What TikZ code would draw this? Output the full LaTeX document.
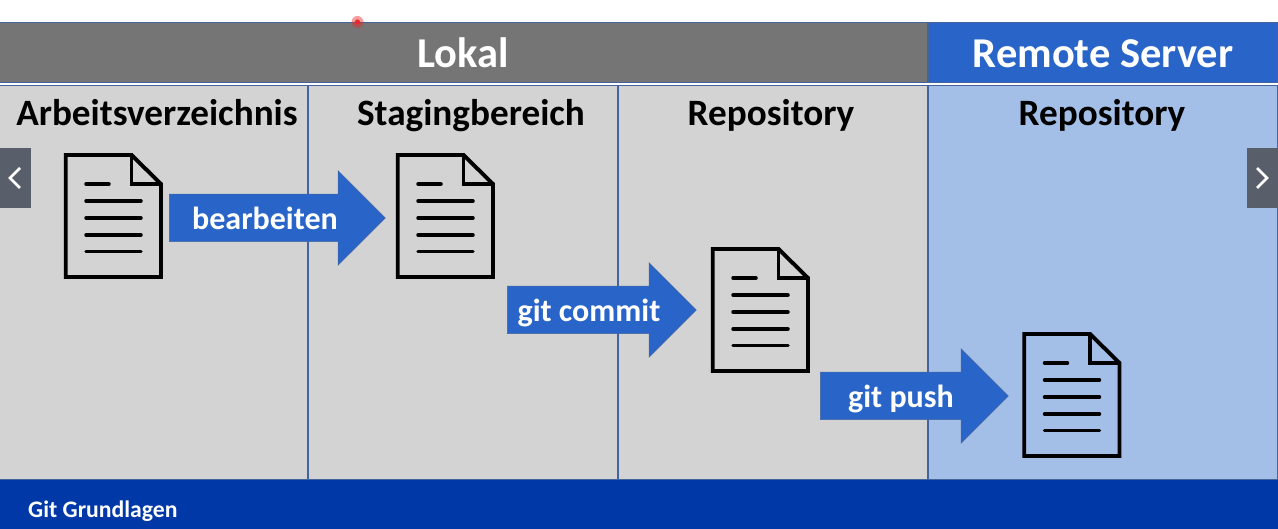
\documentclass[tikz,border=0pt]{standalone}
\usepackage{fontspec}
\setmainfont{Carlito}
\definecolor{BandGray}{RGB}{117,117,117}
\definecolor{PanelGray}{RGB}{211,211,211}
\definecolor{PanelBlue}{RGB}{163,191,232}
\definecolor{ArrowBlue}{RGB}{41,101,200}
\definecolor{EdgeBlue}{RGB}{68,100,160}
\definecolor{FooterBlue}{RGB}{0,56,168}
\definecolor{NavGray}{RGB}{88,94,106}
\definecolor{PointerRed}{RGB}{235,40,40}
\usetikzlibrary{shapes.arrows}
\tikzstyle{band} = [draw=EdgeBlue, line width=1.2pt, minimum height=60pt, inner sep=0pt]
\tikzstyle{bandtext} = [anchor=base, inner sep=0pt, text=white, font=\bfseries\fontsize{42.5}{42.5}\selectfont]
\tikzstyle{panel} = [draw=EdgeBlue, line width=1.3pt, minimum height=394pt, inner sep=0pt]
\tikzstyle{coltitle} = [anchor=base, inner sep=0pt, text=black, font=\bfseries\fontsize{37.2}{37.2}\selectfont]
\tikzstyle{flow} = [single arrow, anchor=tail, draw=EdgeBlue, line width=0.5pt, fill=ArrowBlue, minimum width=94pt, single arrow head extend=23.5pt, single arrow tip angle=90, inner xsep=0pt, inner ysep=23.5pt]
\tikzstyle{flowtext} = [anchor=base, inner sep=0pt, text=white, font=\bfseries\fontsize{32}{32}\selectfont]
\tikzstyle{sheet} = [line width=3.9pt, black, line join=miter]
\tikzstyle{sheetline} = [line width=3.5pt, black, line cap=round]
\tikzstyle{navbox} = [fill=NavGray, inner sep=0pt, minimum width=31pt, minimum height=60pt]
\tikzstyle{chevron} = [line width=2.6pt, white]

\begin{document}
\begin{tikzpicture}[x=1pt, y=-1pt]
  \useasboundingbox (0,0) rectangle (1278,529);
  \fill[white] (0,0) rectangle (1278,529);

  % Header bands
  \node[band, fill=BandGray, minimum width=931pt] (lokal) at (462.5,52.5) {};
  \node[band, fill=ArrowBlue, minimum width=350pt] (remote) at (1103,52.5) {};
  \node[bandtext] (lokaltext) at (463,67.5) {Lokal};
  \node[bandtext] (remotetext) at (1103,67.5) {Remote Server};

  % Panels
  \node[panel, fill=PanelGray, minimum width=311pt] (work) at (152.5,282.5) {};
  \node[panel, fill=PanelGray, minimum width=310pt] (stage) at (463,282.5) {};
  \node[panel, fill=PanelGray, minimum width=310pt] (local) at (773,282.5) {};
  \node[panel, fill=PanelBlue, minimum width=350pt] (server) at (1103,282.5) {};

  % Column titles
  \node[coltitle] (worktitle) at (157,126) {Arbeitsverzeichnis};
  \node[coltitle] (stagetitle) at (471,126) {Stagingbereich};
  \node[coltitle] (localtitle) at (771,126) {Repository};
  \node[coltitle] (servertitle) at (1102,126) {Repository};

  % Document icons
  \foreach \dx/\dy in {0/0, 332/0, 647/94, 958.5/179} {
    \begin{scope}[shift={(\dx,\dy)}]
      \draw[sheet] (65.7,155) -- (131.5,155) -- (161,184) -- (161,277) -- (65.7,277) -- cycle;
      \draw[sheet] (131.5,155) -- (131.5,184) -- (161,184);
      \draw[sheetline] (86,184) -- (109,184);
      \foreach \ly in {201,218,235,251.5}
        \draw[sheetline] (86,\ly) -- (141,\ly);
    \end{scope}
  }

  % Flow arrows
  \node[flow, minimum height=216pt] (edit) at (169,218) {};
  \node[flowtext] (edittext) at (265,230) {bearbeiten};
  \node[flow, minimum height=189pt] (commit) at (507,310) {};
  \node[flowtext] (committext) at (589,322) {git commit};
  \node[flow, minimum height=188pt] (push) at (820,396) {};
  \node[flowtext] (pushtext) at (901,407.5) {git push};

  % Footer
  \node[fill=FooterBlue, minimum width=1278pt, minimum height=50pt, inner sep=0pt] (footer) at (639,504.5) {};
  \node[anchor=base west, inner sep=0pt, text=white, font=\bfseries\fontsize{23.7}{23.7}\selectfont] (footertext) at (28,517.5) {Git Grundlagen};

  % Player controls
  \node[navbox] (prev) at (15.5,178) {};
  \draw[chevron] (20,168) -- (10,178) -- (20,188);
  \node[navbox] (next) at (1262.5,178) {};
  \draw[chevron] (1257,168) -- (1267,178) -- (1257,188);

  % Pointer
  \fill[PointerRed, opacity=0.45] (357.5,22) circle (6);
  \fill[PointerRed] (357.5,22) circle (2.6);
\end{tikzpicture}
\end{document}
